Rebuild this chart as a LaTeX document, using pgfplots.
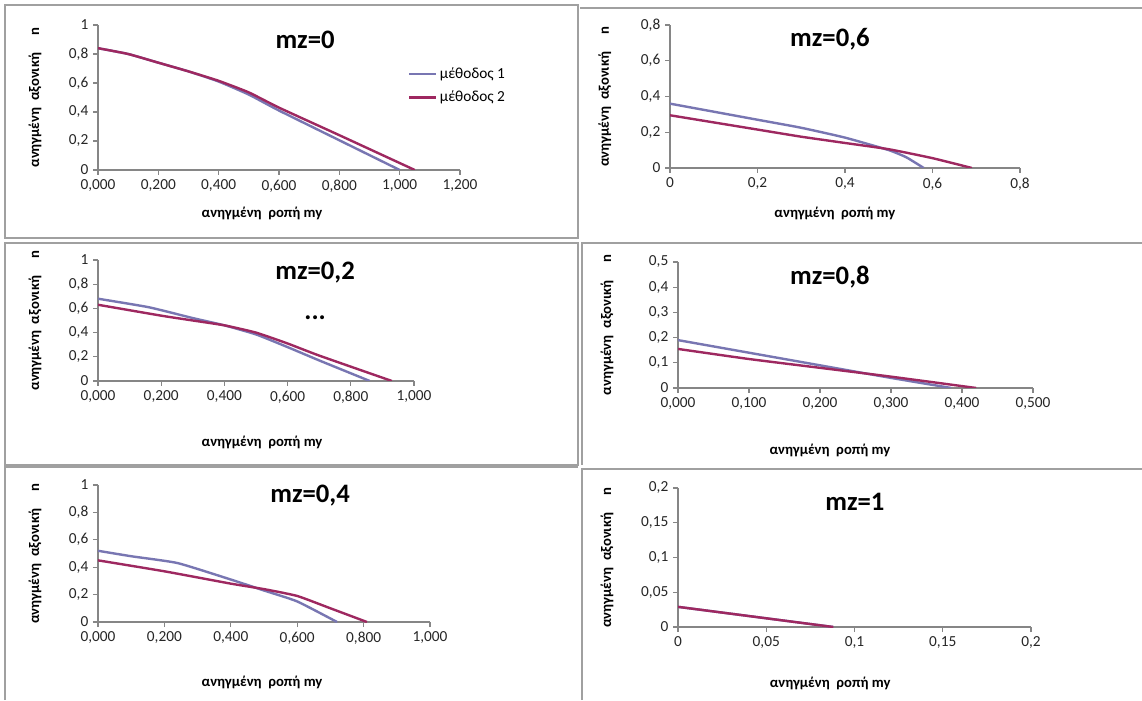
\documentclass[border=0pt]{standalone}
\usepackage{fontspec}
\setmainfont{Carlito}
\usepackage{pgfplots}
\pgfplotsset{compat=1.18}
\definecolor{mone}{RGB}{120,118,178}
\definecolor{mtwo}{RGB}{158,40,96}
\definecolor{axgray}{RGB}{134,134,134}
\definecolor{boxgray}{RGB}{160,160,160}

\pgfplotsset{
  panel/.style={
    scale only axis,
    axis x line*=bottom, axis y line*=left,
    axis line style={draw=axgray, line width=0.9pt},
    tick style={draw=axgray, line width=0.9pt},
    tick align=outside, major tick length=3.75pt,
    xmin=0, ymin=0, enlargelimits=false,
    ticklabel style={font=\fontsize{11.5}{13}\selectfont, text=black!85},
    label style={font=\bfseries\fontsize{11}{12}\selectfont, anchor=center},
    title style={font=\bfseries\fontsize{20}{22}\selectfont, anchor=center},
    /pgf/number format/assume math mode=true,
    yticklabel style={/pgf/number format/.cd, fixed, precision=2, use comma},
    xlabel={ανηγμένη\ \ ροπή my},
    ylabel={ανηγμένη\ \ αξονική\hspace{1.2em}n},
  },
  xthree/.style={xticklabel style={/pgf/number format/.cd, fixed, fixed zerofill, precision=3, use comma}},
  xplain/.style={xticklabel style={/pgf/number format/.cd, fixed, precision=2, use comma}},
  m1/.style={color=mone, line width=1.8pt, no marks, smooth, tension=0.3},
  m2/.style={color=mtwo, line width=1.8pt, no marks, smooth, tension=0.3},
}

\begin{document}
\begin{tikzpicture}
\useasboundingbox[fill=white] (0,0) rectangle (856.5pt,525pt);

% panel frames (pixel coordinates, origin top left)
\begin{scope}[yshift=525pt, x=0.75pt, y=-0.75pt, draw=boxgray, line width=0.9pt]
\draw (5,5) rectangle (578,238);
\draw (580,8) -- (1142,8);
\draw (5,243) rectangle (578,465);
\draw (582,465) -- (582,243) -- (1142,243);
\draw (5,700) -- (5,467) -- (578,467);
\draw (582,700) -- (582,469) -- (1142,469);
\end{scope}

% mz=0
\begin{axis}[panel, xthree, at={(73.5pt,397.5pt)}, anchor=south west,
  width=271.5pt, height=108.75pt,
  xmax=1.2, ymax=1,
  xtick={0,0.2,0.4,0.6,0.8,1.0,1.2}, ytick={0,0.2,0.4,0.6,0.8,1},
  title={mz=0}, title style={at={(axis description cs:0.572,0.841)}},
  xlabel style={at={(axis description cs:0.453,-0.297)}},
  ylabel style={at={(axis description cs:-0.174,0.5)}},
  legend style={at={(axis description cs:0.845,0.745)}, anchor=north west,
    draw=none, fill=none, font=\fontsize{11.5}{13}\selectfont, row sep=4pt},
  legend cell align=left,
  legend image code/.code={\draw[#1] (0pt,0pt) -- (20pt,0pt);},
]
\addplot[m1] coordinates {(0,0.84)(0.1,0.80)(0.2,0.74)(0.3,0.68)(0.4,0.61)(0.5,0.52)(0.6,0.41)(0.8,0.205)(1.0,0)};
\addplot[m2] coordinates {(0,0.84)(0.1,0.80)(0.2,0.74)(0.3,0.68)(0.4,0.615)(0.5,0.535)(0.6,0.43)(0.8,0.24)(1.05,0)};
\legend{μέθοδος 1, μέθοδος 2}
\end{axis}

% mz=0,6
\begin{axis}[panel, xplain, at={(502.5pt,399pt)}, anchor=south west,
  width=262.5pt, height=107.25pt,
  xmax=0.8, ymax=0.8,
  xtick={0,0.2,0.4,0.6,0.8}, ytick={0,0.2,0.4,0.6,0.8},
  title={mz=0,6}, title style={at={(axis description cs:0.457,0.846)}},
  xlabel style={at={(axis description cs:0.471,-0.315)}},
  ylabel style={at={(axis description cs:-0.186,0.5)}},
]
\addplot[m1] coordinates {(0,0.36)(0.1,0.315)(0.2,0.27)(0.3,0.225)(0.4,0.17)(0.5,0.10)(0.54,0.06)(0.58,0)};
\addplot[m2] coordinates {(0,0.295)(0.1,0.255)(0.2,0.215)(0.3,0.175)(0.4,0.14)(0.5,0.105)(0.6,0.055)(0.69,0)};
\end{axis}

% mz=0,2
\begin{axis}[panel, xthree, at={(73.5pt,239.25pt)}, anchor=south west,
  width=237pt, height=90.75pt,
  xmax=1, ymax=1,
  xtick={0,0.2,0.4,0.6,0.8,1.0}, ytick={0,0.2,0.4,0.6,0.8,1},
  title={mz=0,2}, title style={at={(axis description cs:0.687,0.826)}},
  xlabel style={at={(axis description cs:0.519,-0.504)}},
  ylabel style={at={(axis description cs:-0.199,0.5)}},
]
\addplot[m1] coordinates {(0,0.68)(0.16,0.61)(0.3,0.52)(0.4,0.46)(0.5,0.385)(0.6,0.28)(0.7,0.17)(0.86,0)};
\addplot[m2] coordinates {(0,0.63)(0.2,0.54)(0.3,0.50)(0.4,0.46)(0.5,0.40)(0.6,0.31)(0.7,0.21)(0.93,0)};
\node[font=\bfseries\fontsize{20}{22}\selectfont] at (axis description cs:0.687,0.52) {...};
\end{axis}

% mz=0,8
\begin{axis}[panel, xthree, at={(508.5pt,234pt)}, anchor=south west,
  width=266.25pt, height=94.5pt,
  xmax=0.5, ymax=0.5,
  xtick={0,0.1,0.2,0.3,0.4,0.5}, ytick={0,0.1,0.2,0.3,0.4,0.5},
  title={mz=0,8}, title style={at={(axis description cs:0.428,0.817)}},
  xlabel style={at={(axis description cs:0.428,-0.492)}},
  ylabel style={at={(axis description cs:-0.2,0.5)}},
]
\addplot[m1] coordinates {(0,0.19)(0.1,0.14)(0.2,0.09)(0.3,0.04)(0.385,0)};
\addplot[m2] coordinates {(0,0.155)(0.1,0.115)(0.2,0.08)(0.3,0.045)(0.42,0)};
\end{axis}

% mz=0,4
\begin{axis}[panel, xthree, at={(73.5pt,58.5pt)}, anchor=south west,
  width=249pt, height=102.75pt,
  xmax=1, ymax=1,
  xtick={0,0.2,0.4,0.6,0.8,1.0}, ytick={0,0.2,0.4,0.6,0.8,1},
  title={mz=0,4}, title style={at={(axis description cs:0.639,0.861)}},
  xlabel style={at={(axis description cs:0.494,-0.438)}},
  ylabel style={at={(axis description cs:-0.19,0.5)}},
]
\addplot[m1] coordinates {(0,0.52)(0.1,0.48)(0.24,0.43)(0.4,0.31)(0.5,0.23)(0.6,0.15)(0.72,0)};
\addplot[m2] coordinates {(0,0.45)(0.2,0.37)(0.4,0.28)(0.5,0.24)(0.6,0.19)(0.7,0.10)(0.81,0)};
\end{axis}

% mz=1
\begin{axis}[panel, xplain, at={(508.5pt,54.75pt)}, anchor=south west,
  width=264.75pt, height=104.25pt,
  xmax=0.2, ymax=0.2,
  xtick={0,0.05,0.1,0.15,0.2}, ytick={0,0.05,0.1,0.15,0.2},
  title={mz=1}, title style={at={(axis description cs:0.501,0.842)}},
  xlabel style={at={(axis description cs:0.431,-0.403)}},
  ylabel style={at={(axis description cs:-0.201,0.5)}},
]
\addplot[m1] coordinates {(0,0.029)(0.088,0)};
\addplot[m2] coordinates {(0,0.029)(0.088,0)};
\end{axis}
\end{tikzpicture}
\end{document}
